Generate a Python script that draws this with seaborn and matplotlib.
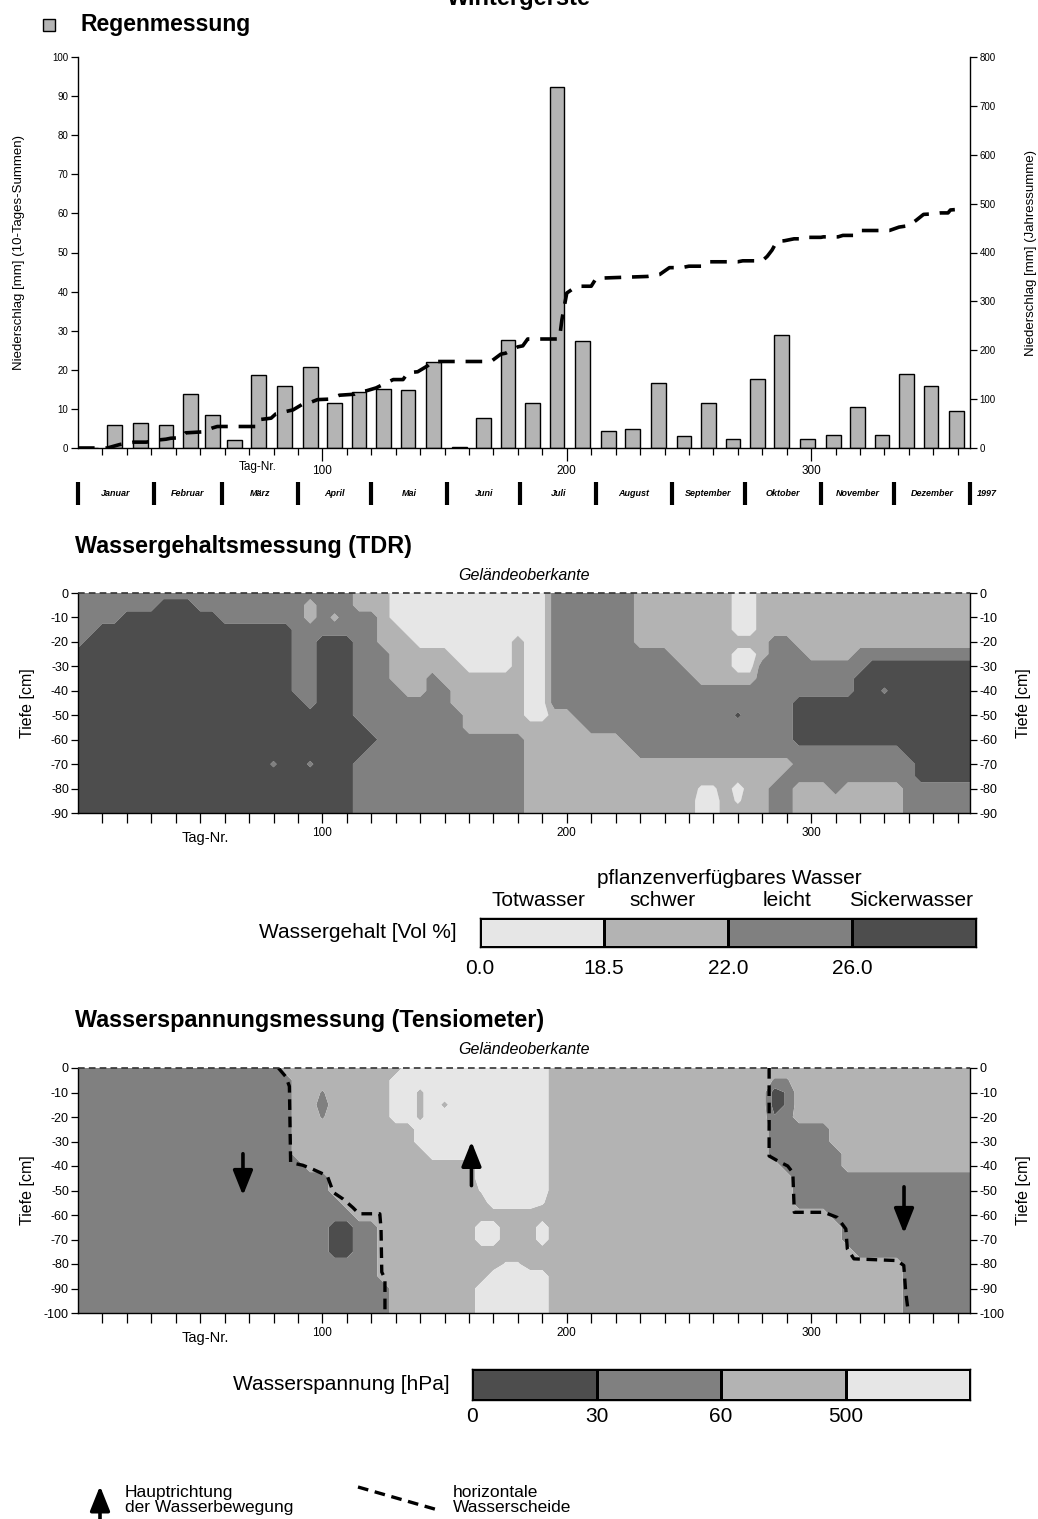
import numpy as np
import pandas as pd
import matplotlib
matplotlib.use("Agg")
import matplotlib.pyplot as plt
from matplotlib.colors import ListedColormap
from matplotlib.transforms import blended_transform_factory
from matplotlib.patches import Rectangle
from matplotlib import font_manager as fm
import seaborn as sns

# ---------------------------------------------------------------- data
MONTH_NAMES = ["Januar", "Februar", "März", "April", "Mai", "Juni", "Juli",
               "August", "September", "Oktober", "November", "Dezember"]
MONTH_DAYS = [31, 28, 31, 30, 31, 30, 31, 31, 30, 31, 30, 31]
YEAR_LABEL = "1997"

# 10-day rain sums (mm), three per month (1-10, 11-20, 21-end)
RAIN_10D = [0.0, 6.0, 6.4, 6.0, 13.8, 8.4, 2.0, 18.6, 15.9, 20.6, 11.5, 14.2,
            15.2, 14.8, 21.9, 0.3, 7.8, 27.7, 11.5, 92.3, 27.3, 4.4, 4.8, 16.6,
            3.0, 11.5, 2.4, 17.6, 28.8, 2.4, 3.4, 10.5, 3.4, 19.0, 15.9, 9.5]

# running annual total (mm) by day number
CUM_DAY = [0, 12, 17, 20, 23, 28, 32, 36, 38, 42, 44, 51, 55, 57, 73, 74, 79, 81,
           88, 92, 95, 98, 103, 107, 113, 115, 118, 122, 126, 129, 133, 135, 139,
           143, 145, 169, 173, 175, 180, 182, 184, 197, 198, 199, 200, 202, 205,
           210, 212, 216, 233, 238, 242, 247, 250, 255, 257, 270, 272, 280, 282,
           284, 286, 289, 293, 297, 298, 304, 305, 311, 313, 318, 320, 332, 336,
           340, 343, 346, 350, 353, 356, 357, 362]
CUM_MM = [0, 0, 7, 10, 12, 12, 16, 18, 20, 21, 31, 33, 41, 44, 44, 58, 61, 70,
          78, 90, 93, 99, 100, 108, 110, 115, 117, 123, 133, 140, 140, 154, 156,
          168, 177, 177, 192, 194, 207, 209, 223, 223, 262, 290, 317, 324, 331,
          331, 347, 348, 351, 355, 369, 369, 372, 372, 381, 381, 383, 383, 392,
          405, 423, 424, 428, 428, 431, 431, 432, 432, 435, 435, 445, 445, 452,
          455, 466, 478, 479, 481, 481, 487, 489]

# soil grid: day 0..365 every 5 days, depth every 5 cm
GRID_DAYS = np.arange(0, 370, 5)
TDR_DEPTH = np.arange(0, 95, 5)
# TDR water content classes: W Totwasser, L schwer, M leicht, D Sickerwasser
TDR_VALUE = {"W": 17.0, "w": 18.0, "L": 20.0, "l": 21.0,
             "M": 24.0, "m": 25.3, "d": 26.7, "D": 28.0}
TDR_ROWS = [
    "MMMMMMMMMM MMMMMMMMMM MMMLLLWWWW WWWWWWWWWM MMMMMMLLLL LLLLWWLLLL LLLLLLLLLL LLLL",
    "MMMMMMMDDD MMMMMMMMML MMMLLLWWWW WWWWWWWWWM MMMMMMLLLL LLLLWWLLLL LLLLLLLLLL LLLL",
    "MMMMDDDDDD DDMMMMMMML MlMMMLWWWW WWWWWWWWWM MMMMMMLLLL LLLLWWLLLL LLLLLLLLLL LLLL",
    "MMDDDDDDDD DDDDDDDDMM MMMMMLLWWW WWWWWWWWWM MMMMMMLLLL LLLLWWLLLL LLLLLLLLLL LLLL",
    "MDDDDDDDDD DDDDDDDDMM DDDMMLLLWW WWWWWWLWWM MMMMMMLLLL LLLLLLLMML LLLLLLLLLL LLLL",
    "DDDDDDDDDD DDDDDDDDMM DDDMMMLLLL LWWWWWLWWM MMMMMMMMML LLLLWWLMMM LLLLMMMMMM MMMM",
    "DDDDDDDDDD DDDDDDDDMM DDDMMMLLLL LLWWWWLWWM MMMMMMMMMM LLLLWWMMMM MMMMMDDDDD DDDD",
    "DDDDDDDDDD DDDDDDDDMM DDDMMMLLLM LLLLLLLWWM MMMMMMMMMM MLLLLLMMMM MMMMDDDDDD DDDD",
    "DDDDDDDDDD DDDDDDDDMM DDDMMMMLLM MLLLLLLWWM MMMMMMMMMM MMMMMMMMMM MMMMDDmDDD DDDD",
    "DDDDDDDDDD DDDDDDDDDM DDDMMMMMMM MLLLLLLWWM MMMMMMMMMM MMMMMMMMMD DDDDDDDDDD DDDD",
    "DDDDDDDDDD DDDDDDDDDD DDDMMMMMMM MMLLLLLWWL LMMMMMMMMM MMMMdMMMMD DDDDDDDDDD DDDD",
    "DDDDDDDDDD DDDDDDDDDD DDDDMMMMMM MMLLLLLLLL LLMMMMMMMM MMMMMMMMMD DDDDDDDDDD DDDD",
    "DDDDDDDDDD DDDDDDDDDD DDDDDMMMMM MMMMMMMLLL LLLLLMMMMM MMMMMMMMMD DDDDDDDDDD DDDD",
    "DDDDDDDDDD DDDDDDDDDD DDDDMMMMMM MMMMMMMLLL LLLLLLMMMM MMMMMMMMMM MMMMMMMMDD DDDD",
    "DDDDDDDDDD DDDDDDmDDm DDDMMMMMMM MMMMMMMLLL LLLLLLLLLL LLLLLLLLLM MMMMMMMMMD DDDD",
    "DDDDDDDDDD DDDDDDDDDD DDDMMMMMMM MMMMMMMLLL LLLLLLLLLL LLLLLLLLMM MMMMMMMMMD DDDD",
    "DDDDDDDDDD DDDDDDDDDD DDDMMMMMMM MMMMMMMLLL LLLLLLLLLL LwwLWLLMML LLMLLLLLMM MMMM",
    "DDDDDDDDDD DDDDDDDDDD DDDMMMMMMM MMMMMMMLLL LLLLLLLLLL LWWLwLLMML LLLLLLLLMM MMMM",
    "DDDDDDDDDD DDDDDDDDDD DDDMMMMMMM MMMMMMMLLL LLLLLLLLLL LWWLLLLMML LLLLLLLLMM MMMM",
]
TDR_LEVELS = [0.0, 18.5, 22.0, 26.0, 40.0]
TDR_CLASSES = ["Totwasser", "schwer", "leicht", "Sickerwasser"]
TDR_TICKS = ["0.0", "18.5", "22.0", "26.0"]

# tension classes: D 0-30, M 30-60, L 60-500, W >500 hPa
TENS_DEPTH = np.arange(0, 105, 5)
TENS_VALUE = {"D": 0.0, "e": 0.6, "M": 1.0, "m": 1.4,
              "L": 2.0, "l": 2.3, "w": 2.6, "W": 3.0}
TENS_ROWS = [
    "MMMMMMMMMM MMMMMMMLLL LLLLLLLWWW WWWWWWWWWL LLLLLLLLLL LLLLLLLLLL LLLLLLLLLL LLLL",
    "MMMMMMMMMM MMMMMMMMLL LLLLLLWWWW WWWWWWWWWL LLLLLLLLLL LLLLLLLmmL LLLLLLLLLL LLLL",
    "MMMMMMMMMM MMMMMMMMLL mLLLLLWWlW WWWWWWWWWL LLLLLLLLLL LLLLLLLDeL LLLLLLLLLL LLLL",
    "MMMMMMMMMM MMMMMMMMLL MLLLLLWWlW lWWWWWWWWL LLLLLLLLLL LLLLLLLDeL LLLLLLLLLL LLLL",
    "MMMMMMMMMM MMMMMMMMLL mLLLLLWWlW WWWWWWWWWL LLLLLLLLLL LLLLLLLeML LLLLLLLLLL LLLL",
    "MMMMMMMMMM MMMMMMMMLL LLLLLLLLWW WWWWWWWWWL LLLLLLLLLL LLLLLLLMMM MMLLLLLLLL LLLL",
    "MMMMMMMMMM MMMMMMMMLL LLLLLLLLWW WWWWWWWWWL LLLLLLLLLL LLLLLLLMMM MMLLLLLLLL LLLL",
    "MMMMMMMMMM MMMMMMMMLL LLLLLLLLLW WWWWWWWWWL LLLLLLLLLL LLLLLLLMMM MMMLLLLLLL LLLL",
    "MMMMMMMMMM MMMMMMMMML LLLLLLLLLL LLLWWWWWWL LLLLLLLLLL LLLLLLLLMM MMMLLLLLLL LLLL",
    "MMMMMMMMMM MMMMMMMMMM MLLLLLLLLL LLLWWWWWWL LLLLLLLLLL LLLLLLLLLM MMMMMMMMMM MMMM",
    "MMMMMMMMMM MMMMMMMMMM MLLLLLLLLL LLLwWWWWWL LLLLLLLLLL LLLLLLLLLM MMMMMMMMMM MMMM",
    "MMMMMMMMMM MMMMMMMMMM MMLLLLLLLL LLLLWWWWwL LLLLLLLLLL LLLLLLLLLM MMMMMMMMMM MMMM",
    "MMMMMMMMMM MMMMMMMMMM MMMLLLLLLL LLLLLLLLLL LLLLLLLLLL LLLLLLLLLL LLMMMMMMMM MMMM",
    "MMMMMMMMMM MMMMMMMMMM MDDMMLLLLL LLLWWLLLWL LLLLLLLLLL LLLLLLLLLL LLLMMMMMMM MMMM",
    "MMMMMMMMMM MMMMMMMMMM MDDMMLLLLL LLLWWLLLWL LLLLLLLLLL LLLLLLLLLL LLLMMMMMMM MMMM",
    "MMMMMMMMMM MMMMMMMMMM MDDMMLLLLL LLLLLLLLLL LLLLLLLLLL LLLLLLLLLL LLLLMMMMMM MMMM",
    "MMMMMMMMMM MMMMMMMMMM MMMMMLLLLL LLLLLwwLLL LLLLLLLLLL LLLLLLLLLL LLLLLLLLMM MMMM",
    "MMMMMMMMMM MMMMMMMMMM MMMMMLLLLL LLLLWWWWWL LLLLLLLLLL LLLLLLLLLL LLLLLLLLMM MMMM",
    "MMMMMMMMMM MMMMMMMMMM MMMMMMLLLL LLLWWWWWWL LLLLLLLLLL LLLLLLLLLL LLLLLLLLMM MMMM",
    "MMMMMMMMMM MMMMMMMMMM MMMMMMLLLL LLLWWWWWWL LLLLLLLLLL LLLLLLLLLL LLLLLLLLMM MMMM",
    "MMMMMMMMMM MMMMMMMMMM MMMMMMLLLL LLLWWWWWWL LLLLLLLLLL LLLLLLLLLL LLLLLLLLMM MMMM",
]
TENS_LEVELS = [-1.0, 0.5, 1.5, 2.5, 4.0]
TENS_TICKS = ["0", "30", "60", "500"]

# horizontal water divides (day, depth cm)
WS_LEFT_DAY = [82, 85, 86.5, 87, 92, 96, 102, 104.5, 108.5, 112.5, 115, 123.5,
               124, 124.3, 125.6, 125.6]
WS_LEFT_DEP = [0, 3.5, 7.5, 38.6, 39.7, 41.3, 44, 50.8, 53.5, 57, 59.5, 59.5,
               65.7, 83.3, 86, 100]
WS_RIGHT_DAY = [282.8, 282.8, 286.3, 290.4, 292.5, 293.1, 305.3, 310.7, 314.2,
                314.8, 317.5, 335.1, 337.9, 338.7, 339.8]
WS_RIGHT_DEP = [0, 35.9, 37.9, 40, 42.7, 58.9, 58.9, 61, 65.7, 73.8, 77.9, 78.6,
                80.6, 91.5, 100]

# main flow direction arrows: day, tail depth, head depth
FLOW_DAY = [67.5, 161, 338]
FLOW_TAIL = [35, 48, 48.5]
FLOW_HEAD = [52, 30, 67.5]

# ---------------------------------------------------------------- style
sns.set_theme(style="ticks")
plt.rcParams["font.family"] = ["Liberation Sans", "DejaVu Sans"]
plt.rcParams["axes.unicode_minus"] = False
plt.rcParams["axes.edgecolor"] = "black"
plt.rcParams["axes.linewidth"] = 1.0
plt.rcParams["xtick.color"] = "black"
plt.rcParams["ytick.color"] = "black"
plt.rcParams["text.color"] = "black"

_names = {f.name for f in fm.fontManager.ttflist}
NARROW = "Liberation Sans Narrow" if "Liberation Sans Narrow" in _names else "Liberation Sans"

GREYS = ["#e6e6e6", "#b3b3b3", "#808080", "#4d4d4d"]
BAR_GREY = "#b4b4b4"

W_PX, H_PX, DPI = 1038, 1519, 100
fig = plt.figure(figsize=(W_PX / DPI, H_PX / DPI), dpi=DPI)


def box(x0, y0, x1, y1):
    return [x0 / W_PX, 1 - y1 / H_PX, (x1 - x0) / W_PX, (y1 - y0) / H_PX]


def fx(x):
    return x / W_PX


def fy(y):
    return 1 - y / H_PX


def day_axis(ax, major_len, minor_len, label_size, pad):
    ax.set_xlim(0, 365)
    ax.set_xticks([100, 200, 300])
    ax.set_xticks(np.arange(10, 365, 10), minor=True)
    ax.tick_params(axis="x", which="major", direction="out", length=major_len,
                   width=0.9, labelsize=label_size, pad=pad)
    ax.tick_params(axis="x", which="minor", direction="out", length=minor_len,
                   width=0.9)
    ax.set_xlabel("")


# ---------------------------------------------------------------- rain
fig.text(0.5, fy(5), "Wintergerste", ha="center", va="baseline",
         fontsize=17, fontweight="bold")

ax = fig.add_axes(box(78, 57, 970, 448))
month_start = np.concatenate([[0], np.cumsum(MONTH_DAYS)[:-1]])
dec_center = []
for s, n in zip(month_start, MONTH_DAYS):
    for a, b in ((0, 10), (10, 20), (20, n)):
        dec_center.append(s + (a + b) / 2)
rain = pd.DataFrame({"Tag": dec_center, "Niederschlag": RAIN_10D})
sns.barplot(data=rain, x="Tag", y="Niederschlag", native_scale=True, width=0.67,
            color=BAR_GREY, saturation=1, edgecolor="black", linewidth=1.0,
            errorbar=None, ax=ax)
ax.set_ylim(0, 100)
ax.set_yticks(np.arange(0, 101, 10))
day_axis(ax, 9, 5, 8.5, 3)
ax.tick_params(axis="y", direction="out", length=5, width=0.9, labelsize=7, pad=2)
ax.set_ylabel("")
ax.spines["top"].set_visible(False)
ax.spines["right"].set_visible(False)
ax.text(-0.066, 0.5, "Niederschlag [mm] (10-Tages-Summen)", transform=ax.transAxes,
        rotation=90, ha="center", va="center", fontsize=9.5)

ax2 = ax.twinx()
sns.lineplot(x=CUM_DAY, y=CUM_MM, ax=ax2, color="black", linewidth=2.6,
             linestyle=(0, (4.6, 3.0)), estimator=None, sort=False)
ax2.set_ylim(0, 800)
ax2.set_yticks(np.arange(0, 801, 100))
ax2.tick_params(axis="y", direction="out", length=5, width=0.9, labelsize=7, pad=2)
for side in ("top", "left", "bottom"):
    ax2.spines[side].set_visible(False)
ax2.set_ylabel("")
ax2.text(1.068, 0.5, "Niederschlag [mm] (Jahressumme)", transform=ax2.transAxes,
         rotation=90, ha="center", va="center", fontsize=9.5)

trans = blended_transform_factory(ax.transData, ax.transAxes)
ax.text(73.5, -0.049, "Tag-Nr.", transform=trans, ha="center", va="center",
        fontsize=8.5)
edges = np.concatenate([[0], np.cumsum(MONTH_DAYS)])
for e in edges:
    ax.plot([e, e], [-0.088, -0.146], transform=trans, color="black", lw=3,
            clip_on=False, solid_capstyle="butt")
for name, a, b in zip(MONTH_NAMES, edges[:-1], edges[1:]):
    ax.text((a + b) / 2, -0.117, name, transform=trans, ha="center", va="center",
            fontsize=6.5, style="italic", fontweight="bold", clip_on=False)
ax.text(edges[-1] + 7, -0.117, YEAR_LABEL, transform=trans, ha="center",
        va="center", fontsize=6.5, style="italic", fontweight="bold", clip_on=False)


# ---------------------------------------------------------------- soil panels
def soil_panel(rect, depths, rows, codes, levels, colors, title, title_y, geo_y):
    axp = fig.add_axes(rect)
    z = np.array([[codes[c] for c in r.replace(" ", "")] for r in rows])
    axp.contourf(GRID_DAYS, -depths, z, levels=levels, colors=colors,
                 antialiased=True)
    dmax = depths.max()
    axp.set_ylim(-dmax, 0)
    axp.set_yticks(np.arange(-dmax, 1, 10))
    axp.set_yticklabels([f"{int(v)}" for v in np.arange(-dmax, 1, 10)],
                        family=NARROW)
    axp.tick_params(axis="y", which="both", left=True, right=True,
                    labelleft=True, labelright=True, direction="out",
                    length=5, width=0.9, labelsize=9, pad=1.5)
    for lbl in axp.get_yticklabels(which="both"):
        lbl.set_family(NARROW)
    day_axis(axp, 7, 7, 8.5, 3)
    axp.spines["top"].set_visible(False)
    axp.axhline(0, color="#333333", lw=1.2, linestyle=(0, (4, 2.5)),
                clip_on=False, zorder=5)
    for xpos in (-0.057, 1.0605):
        axp.text(xpos, 0.5, "Tiefe [cm]", transform=axp.transAxes, rotation=90,
                 ha="center", va="center", fontsize=11.5)
    tr = blended_transform_factory(axp.transData, axp.transAxes)
    h_px = rect[3] * H_PX
    axp.text(52, -25 / h_px, "Tag-Nr.", transform=tr, ha="center", va="center",
             fontsize=10.5, family=NARROW)
    fig.text(fx(75), fy(title_y), title, ha="left", va="center", fontsize=16.8,
             fontweight="bold", family=NARROW)
    fig.text(fx(524), fy(geo_y), "Geländeoberkante", ha="center", va="center",
             fontsize=11.5, style="italic", family=NARROW)
    return axp


axT = soil_panel(box(78, 593, 970, 813), TDR_DEPTH, TDR_ROWS, TDR_VALUE,
                 TDR_LEVELS, GREYS, "Wassergehaltsmessung (TDR)", 546, 575)
axS = soil_panel(box(78, 1068, 970, 1313), TENS_DEPTH, TENS_ROWS, TENS_VALUE,
                 TENS_LEVELS, GREYS[::-1],
                 "Wasserspannungsmessung (Tensiometer)", 1020, 1049)

for xs, ds in ((WS_LEFT_DAY, WS_LEFT_DEP), (WS_RIGHT_DAY, WS_RIGHT_DEP)):
    sns.lineplot(x=xs, y=-np.asarray(ds), ax=axS, color="black", linewidth=2.4,
                 linestyle=(0, (3.2, 2.0)), estimator=None, sort=False)
axS.set_ylabel("")
for d, t, h in zip(FLOW_DAY, FLOW_TAIL, FLOW_HEAD):
    axS.annotate("", xy=(d, -h), xytext=(d, -t),
                 arrowprops=dict(arrowstyle="-|>,head_width=0.3,head_length=0.75",
                                 mutation_scale=20, lw=2.6, color="black",
                                 shrinkA=0, shrinkB=0))


# ---------------------------------------------------------------- class legends
def class_bar(rect, colors):
    axl = fig.add_axes(rect)
    sns.heatmap(np.array([[0, 1, 2, 3]]), cmap=ListedColormap(colors), cbar=False,
                linewidths=1.0, linecolor="black", xticklabels=False,
                yticklabels=False, ax=axl)
    for sp in axl.spines.values():
        sp.set_visible(True)
        sp.set_linewidth(1.0)
    axl.tick_params(left=False, bottom=False)
    return axl


axL1 = class_bar(box(480, 918, 976, 947), GREYS)
axL2 = class_bar(box(472, 1369, 970, 1400), GREYS[::-1])

LEG_FS = 15
fig.text(fx(457), fy(932), "Wassergehalt [Vol %]", ha="right", va="center",
         fontsize=LEG_FS, family=NARROW)
for i, lab in enumerate(TDR_TICKS):
    fig.text(fx(480 + i * 124), fy(968), lab, ha="center", va="center",
             fontsize=LEG_FS, family=NARROW)
for i, lab in enumerate(TDR_CLASSES):
    fig.text(fx(538 + i * 124.5), fy(901), lab, ha="center", va="center",
             fontsize=LEG_FS, family=NARROW)
fig.text(fx(729), fy(878), "pflanzenverfügbares Wasser", ha="center",
         va="center", fontsize=LEG_FS, family=NARROW)

fig.text(fx(450), fy(1385), "Wasserspannung [hPa]", ha="right", va="center",
         fontsize=LEG_FS, family=NARROW)
for i, lab in enumerate(TENS_TICKS):
    fig.text(fx(472 + i * 124.5), fy(1417), lab, ha="center", va="center",
             fontsize=LEG_FS, family=NARROW)

# ---------------------------------------------------------------- overlay keys
ov = fig.add_axes([0, 0, 1, 1], zorder=10)
ov.set_xlim(0, W_PX)
ov.set_ylim(H_PX, 0)
ov.axis("off")
ov.patch.set_visible(False)
ov.add_patch(Rectangle((43, 19), 12, 12, facecolor=BAR_GREY, edgecolor="black",
                       lw=1.0))
ov.text(80, 24, "Regenmessung", ha="left", va="center", fontsize=16.5,
        family=NARROW, fontweight="bold")
ov.annotate("", xy=(100, 1486), xytext=(100, 1525),
            arrowprops=dict(arrowstyle="-|>,head_width=0.3,head_length=0.75",
                            mutation_scale=20, lw=2.6, color="black",
                            shrinkA=0, shrinkB=0), annotation_clip=False)
ov.text(125, 1500, "Hauptrichtung\nder Wasserbewegung", ha="left", va="center",
        fontsize=12.5, family=NARROW, linespacing=1.05)
ov.plot([358, 438], [1487, 1510], color="black", lw=2.4,
        linestyle=(0, (3.2, 2.0)))
ov.text(453, 1500, "horizontale\nWasserscheide", ha="left", va="center",
        fontsize=12.5, family=NARROW, linespacing=1.05)

fig.savefig("out.png", dpi=DPI)
